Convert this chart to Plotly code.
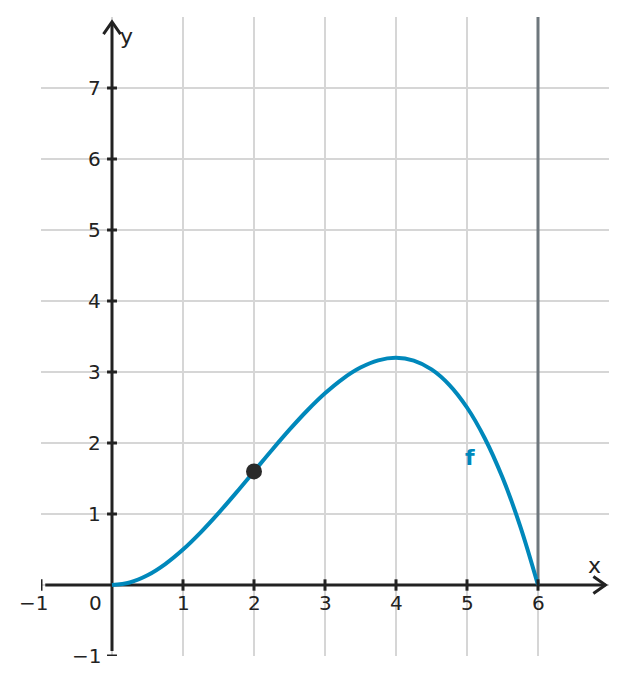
import plotly.graph_objects as go

x_vals = [0, 0.25, 0.5, 0.75, 1, 1.25, 1.5, 1.75, 2, 2.25, 2.5, 2.75, 3, 3.25,
          3.5, 3.75, 4, 4.25, 4.5, 4.75, 5, 5.25, 5.5, 5.75, 6]
y_vals = [0, 0.0359, 0.1375, 0.2953, 0.5, 0.7422, 1.0125, 1.3016, 1.6, 1.8984,
          2.1875, 2.4578, 2.7, 2.9047, 3.0625, 3.1641, 3.2, 3.1609, 3.0375,
          2.8203, 2.5, 2.0672, 1.5125, 0.8266, 0]
point_x = [2]
point_y = [1.6]
x_ticks = [-1, 1, 2, 3, 4, 5, 6]
y_ticks = [-1, 1, 2, 3, 4, 5, 6, 7]
x_grid = [-1, 0, 1, 2, 3, 4, 5, 6, 7]
y_grid = [-1, 0, 1, 2, 3, 4, 5, 6, 7]
boundary_x = 6

BLUE = "#0088bb"
DARK = "#222222"
GRID = "#d6d6d6"
FONT = "DejaVu Sans"
FS = 20

fig = go.Figure()
fig.add_trace(go.Scatter(x=x_vals, y=y_vals, mode="lines", line=dict(color=BLUE, width=4, shape="spline"),
                         hoverinfo="skip", showlegend=False))
fig.add_trace(go.Scatter(x=point_x, y=point_y, mode="markers",
                         marker=dict(color="#2a2a2a", size=16), showlegend=False))

shapes = []
# vertical boundary line
shapes.append(dict(type="line", x0=boundary_x, x1=boundary_x, y0=0, y1=8, line=dict(color="#6e777d", width=3), layer="between"))
# axes
shapes.append(dict(type="line", x0=-0.94, x1=6.95, y0=0, y1=0, line=dict(color=DARK, width=3), layer="between"))
shapes.append(dict(type="line", x0=0, x1=0, y0=-0.93, y1=7.93, line=dict(color=DARK, width=3), layer="between"))
# arrow heads
shapes.append(dict(type="path", path="M 6.78,0.12 L 6.95,0 L 6.78,-0.12", line=dict(color=DARK, width=3)))
shapes.append(dict(type="path", path="M -0.12,7.76 L 0,7.93 L 0.12,7.76", line=dict(color=DARK, width=3)))
# ticks
for t in x_ticks:
    shapes.append(dict(type="line", x0=t, x1=t, y0=-0.08, y1=0.08, line=dict(color=DARK, width=3)))
for t in y_ticks:
    shapes.append(dict(type="line", x0=-0.07, x1=0.07, y0=t, y1=t, line=dict(color=DARK, width=3)))

annotations = []
for t in x_ticks:
    annotations.append(dict(x=t, y=-0.25, xshift=(-8 if t < 0 else 0), text=("−1" if t < 0 else str(t)),
                            showarrow=False, xanchor="center", yanchor="middle",
                            font=dict(family=FONT, size=FS, color=DARK)))
for t in y_ticks:
    annotations.append(dict(x=-0.12, y=t, text=("−1" if t < 0 else str(t)), showarrow=False,
                            xanchor="right", yanchor="middle", font=dict(family=FONT, size=FS, color=DARK)))
annotations.append(dict(x=-0.23, y=-0.25, text="0", showarrow=False, xanchor="center", yanchor="middle",
                        font=dict(family=FONT, size=FS, color=DARK)))
annotations.append(dict(x=6.79, y=0.28, text="x", showarrow=False, xanchor="center", yanchor="middle",
                        font=dict(family=FONT, size=FS + 2, color=DARK)))
annotations.append(dict(x=0.21, y=7.73, text="y", showarrow=False, xanchor="center", yanchor="middle",
                        font=dict(family=FONT, size=FS + 2, color=DARK)))
annotations.append(dict(x=5.04, y=1.79, text="<b>f</b>", showarrow=False, xanchor="center", yanchor="middle",
                        font=dict(family=FONT, size=FS + 2, color=BLUE)))

fig.update_layout(
    width=627, height=684,
    margin=dict(l=41, r=18, t=17, b=28),
    plot_bgcolor="white", paper_bgcolor="white",
    xaxis=dict(range=[-1, 7], tickvals=x_grid, showticklabels=False, showgrid=True, gridcolor=GRID, gridwidth=1.5,
               zeroline=False, showline=False, fixedrange=True),
    yaxis=dict(range=[-1, 8], tickvals=y_grid, showticklabels=False, showgrid=True, gridcolor=GRID, gridwidth=1.5,
               zeroline=False, showline=False, fixedrange=True),
    shapes=shapes, annotations=annotations, showlegend=False,
)
fig.write_html("out.html")
